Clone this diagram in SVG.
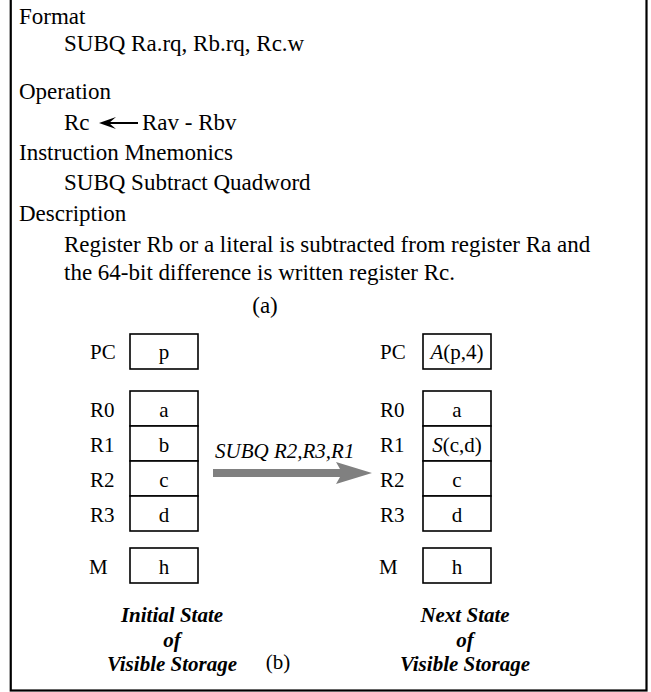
<svg xmlns="http://www.w3.org/2000/svg" width="651" height="692" viewBox="0 0 651 692">
<style>
text{font-family:"Liberation Serif","Times New Roman",serif;font-size:21px;fill:#000}
.t{font-size:23px}
.c{text-anchor:middle}
.bi{font-weight:bold;font-style:italic}
.it{font-style:italic}
.box{fill:#fff;stroke:#000;stroke-width:1.6}
</style>
<rect x="0" y="0" width="651" height="692" fill="#fff"/>
<rect x="10.75" y="-5" width="635.75" height="695.5" fill="none" stroke="#000" stroke-width="2.2"/>
<g id="spec">
<text class="t" x="19" y="24">Format</text>
<text class="t" x="64" y="51">SUBQ Ra.rq, Rb.rq, Rc.w</text>
<text class="t" x="19" y="99">Operation</text>
<text class="t" x="64" y="130">Rc</text>
<text class="t" x="142" y="130">Rav - Rbv</text>
<text class="t" x="19" y="160">Instruction Mnemonics</text>
<text class="t" x="64" y="190">SUBQ Subtract Quadword</text>
<text class="t" x="19" y="221">Description</text>
<text class="t" x="64" y="252">Register Rb or a literal is subtracted from register Ra and</text>
<text class="t" x="64" y="280">the 64-bit difference is written register Rc.</text>
<text class="t c" x="265" y="313">(a)</text>
<line x1="108" y1="123" x2="138" y2="123" stroke="#000" stroke-width="2"/>
<polygon points="99,123 116,117 109,123 116,129" fill="#000"/>
</g>
<g id="initial-state">
<text x="90" y="359">PC</text>
<rect class="box" x="130" y="334" width="68" height="35"/>
<text x="164" y="359" class="c">p</text>
<text x="90" y="417">R0</text>
<rect class="box" x="130" y="391" width="68" height="35"/>
<text x="164" y="417" class="c">a</text>
<text x="90" y="452">R1</text>
<rect class="box" x="130" y="426" width="68" height="35"/>
<text x="164" y="452" class="c">b</text>
<text x="90" y="487">R2</text>
<rect class="box" x="130" y="461" width="68" height="35"/>
<text x="164" y="487" class="c">c</text>
<text x="90" y="522">R3</text>
<rect class="box" x="130" y="496" width="68" height="35"/>
<text x="164" y="522" class="c">d</text>
<text x="89" y="574">M</text>
<rect class="box" x="130" y="548" width="68" height="35"/>
<text x="164" y="574" class="c">h</text>
<text x="172" y="622" class="c bi">Initial State</text>
<text x="172" y="647" class="c bi">of</text>
<text x="172" y="671" class="c bi">Visible Storage</text>
</g>
<g id="next-state">
<text x="380" y="359">PC</text>
<rect class="box" x="423" y="334" width="68" height="35"/>
<text x="457" y="359" class="c"><tspan class="it">A</tspan>(p,4)</text>
<text x="380" y="417">R0</text>
<rect class="box" x="423" y="391" width="68" height="35"/>
<text x="457" y="417" class="c">a</text>
<text x="380" y="452">R1</text>
<rect class="box" x="423" y="426" width="68" height="35"/>
<text x="457" y="452" class="c"><tspan class="it">S</tspan>(c,d)</text>
<text x="380" y="487">R2</text>
<rect class="box" x="423" y="461" width="68" height="35"/>
<text x="457" y="487" class="c">c</text>
<text x="380" y="522">R3</text>
<rect class="box" x="423" y="496" width="68" height="35"/>
<text x="457" y="522" class="c">d</text>
<text x="379" y="574">M</text>
<rect class="box" x="423" y="548" width="68" height="35"/>
<text x="457" y="574" class="c">h</text>
<text x="465" y="622" class="c bi">Next State</text>
<text x="465" y="647" class="c bi">of</text>
<text x="465" y="671" class="c bi">Visible Storage</text>
</g>
<g id="connectors">
<text x="215" y="458" class="it">SUBQ R2,R3,R1</text>
<polygon points="213,469 340,469 336,462 372,473 336,484 340,477 213,477" fill="#808080"/>
</g>
<text x="278" y="669" class="c">(b)</text>
</svg>
